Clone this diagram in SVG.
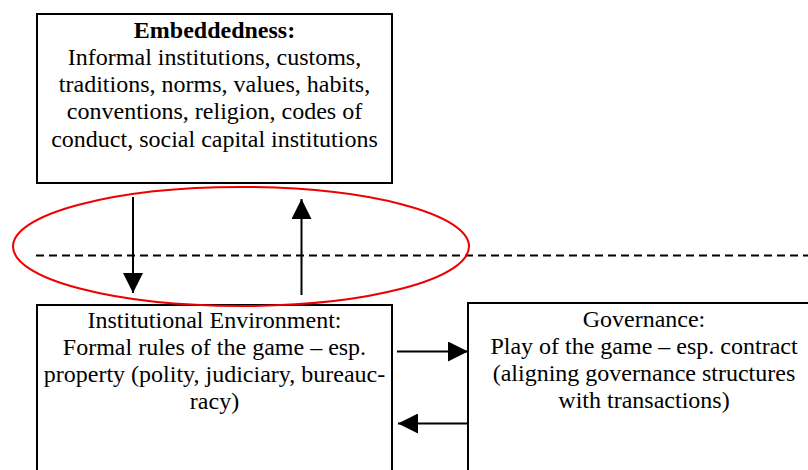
<svg xmlns="http://www.w3.org/2000/svg" width="808" height="470" viewBox="0 0 808 470">
<style>
.box{fill:#fff;stroke:#000;stroke-width:2}
.t{font-family:"Liberation Serif","Times New Roman",serif;font-size:24px;fill:#000;text-anchor:middle}
.b{font-weight:bold}
.c{stroke:#000;stroke-width:2;fill:none}
</style>
<defs>
<marker id="ah" markerUnits="userSpaceOnUse" markerWidth="20" markerHeight="20" refX="20" refY="10" orient="auto">
<path d="M0,0 L20,10 L0,20 Z" fill="#000"/>
</marker>
</defs>
<rect width="808" height="470" fill="#fff"/>
<g id="embeddedness">
<rect class="box" x="37" y="14" width="355" height="169"/>
<text class="t b" x="214.5" y="38">Embeddedness:</text>
<text class="t" x="214.5" y="65">Informal institutions, customs,</text>
<text class="t" x="214.5" y="92">traditions, norms, values, habits,</text>
<text class="t" x="214.5" y="119">conventions, religion, codes of</text>
<text class="t" x="214.5" y="146.5">conduct, social capital institutions</text>
</g>
<g id="institutional">
<rect class="box" x="37" y="305" width="355" height="180"/>
<text class="t" x="214.5" y="328">Institutional Environment:</text>
<text class="t" x="214.5" y="355">Formal rules of the game – esp.</text>
<text class="t" x="214.5" y="382">property (polity, judiciary, bureauc-</text>
<text class="t" x="214.5" y="409">racy)</text>
</g>
<g id="governance">
<rect class="box" x="468" y="303" width="360" height="180"/>
<text class="t" x="644" y="327">Governance:</text>
<text class="t" x="644" y="354">Play of the game – esp. contract</text>
<text class="t" x="644" y="381">(aligning governance structures</text>
<text class="t" x="644" y="408">with transactions)</text>
</g>
<g id="connectors">
<line x1="36" y1="255.5" x2="808" y2="255.5" stroke="#000" stroke-width="2" stroke-dasharray="8 5"/>
<ellipse cx="241" cy="246.5" rx="228" ry="59.5" fill="none" stroke="#e00" stroke-width="2"/>
<line class="c" x1="133" y1="197" x2="133" y2="293" marker-end="url(#ah)"/>
<line class="c" x1="301.5" y1="295" x2="301.5" y2="199" marker-end="url(#ah)"/>
<line class="c" x1="397" y1="351.5" x2="468" y2="351.5" marker-end="url(#ah)"/>
<line class="c" x1="468" y1="423.5" x2="398" y2="423.5" marker-end="url(#ah)"/>
</g>
</svg>
